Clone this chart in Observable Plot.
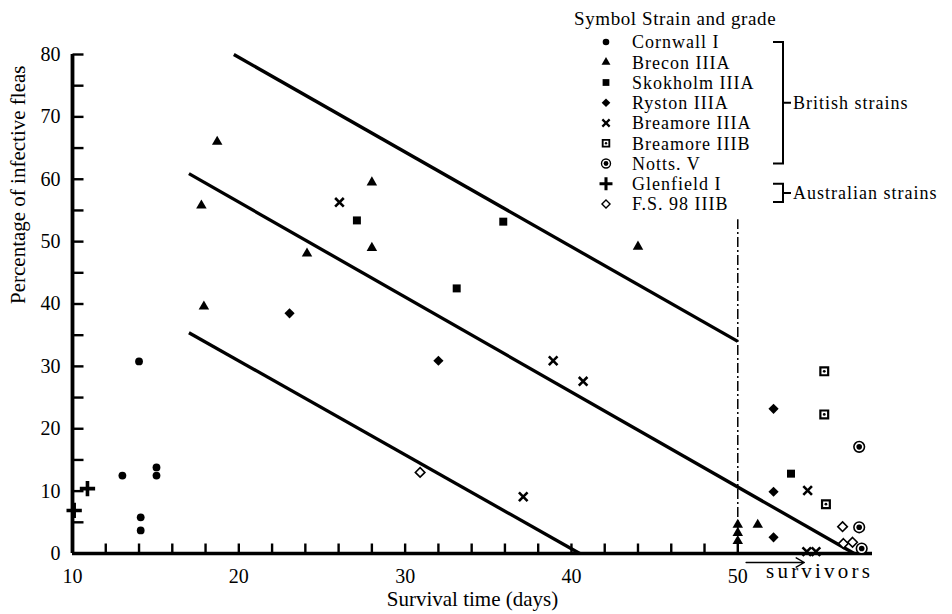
<!DOCTYPE html>
<html><head><meta charset="utf-8">
<script src="https://cdn.jsdelivr.net/npm/d3@7"></script>
<script src="https://cdn.jsdelivr.net/npm/@observablehq/plot@0.6"></script>
<style>body{margin:0;background:#fff;}</style>
</head><body><div id="chart"></div>
<script>
// ---------- data ----------
const strainNames = ["Cornwall I","Brecon IIIA","Skokholm IIIA","Ryston IIIA","Breamore IIIA","Breamore IIIB","Notts. V","Glenfield I","F.S. 98 IIIB"];
const groupLabels = ["British strains","Australian strains"];
const legendTitle = "Symbol Strain and grade";

const cornwallDays = [14.0, 13.0, 15.05, 15.05, 14.1, 14.1];
const cornwallPct  = [30.8, 12.5, 13.8, 12.5, 5.8, 3.7];
const breconDays = [18.7, 17.75, 17.9, 24.1, 28.0, 28.0, 44.0, 50.0, 50.0, 50.0, 51.2];
const breconPct  = [66.0, 55.8, 39.6, 48.1, 59.5, 49.0, 49.2, 4.6, 3.3, 2.0, 4.6];
const skokholmDays = [27.1, 35.9, 33.1, 53.2];
const skokholmPct  = [53.4, 53.2, 42.5, 12.8];
const rystonDays = [23.05, 32.0, 52.15, 52.15, 52.15];
const rystonPct  = [38.5, 30.9, 23.2, 9.9, 2.6];
const breamoreADays = [26.05, 38.9, 40.7, 37.1, 54.2, 54.15, 54.7];
const breamoreAPct  = [56.3, 30.9, 27.6, 9.1, 10.1, 0.3, 0.3];
const breamoreBDays = [55.2, 55.2, 55.3];
const breamoreBPct  = [29.2, 22.3, 7.9];
const nottsDays = [57.3, 57.3, 57.45];
const nottsPct  = [17.1, 4.2, 0.8];
const glenfieldDays = [10.9, 10.1];
const glenfieldPct  = [10.4, 6.9];
const fs98Days = [30.9, 56.3, 56.35, 56.9];
const fs98Pct  = [13.0, 4.3, 1.6, 1.8];

// parallel regression lines (start/end)
const fitX1 = [19.7, 17.0, 17.0];
const fitY1 = [80.0, 60.9, 35.4];
const fitX2 = [50.0, 57.0, 40.5];
const fitY2 = [34.0, 0.0, 0.0];

const survivalCutoff = [50];
const cutoffTop = 53.5;
const survivorArrowFrom = [50.5];
const survivorArrowTo = [54.0];
const survivorLabel = ["survivors"];
const survivorLabelX = [51.7];

const xTickLabels = [10, 20, 30, 40, 50];
const xMinorTicks = [12,14,16,18,20,22,24,26,28,30,32,34,36,38,40,42,44,46,48,50];
const yTickLabels = [0, 10, 20, 30, 40, 50, 60, 70, 80];
const yMinorTicks = [5,10,15,20,25,30,35,40,45,50,55,60,65,70,75,80];
const xTitle = "Survival time (days)";
const yTitle = "Percentage of infective fleas";

// ---------- build ----------
const FONT = '"Liberation Serif", "Times New Roman", serif';
const K = "#000";
const pts = (days, pct) => days.map((d, i) => ({day: d, pct: pct[i]}));
const fits = fitX1.map((x, i) => ({x1: x, y1: fitY1[i], x2: fitX2[i], y2: fitY2[i]}));
const arrowData = survivorArrowFrom.map((f, i) => ({from: f, to: survivorArrowTo[i], y: 0}));
const labelData = survivorLabel.map((t, i) => ({t, x: survivorLabelX[i], y: 0}));

// inward tick shapes (symbols anchored on the axis)
const tickUp = {draw(ctx) { ctx.moveTo(0, 0); ctx.lineTo(0, -10); }};
const tickRight = {draw(ctx) { ctx.moveTo(0, 0); ctx.lineTo(11, 0); }};

const specs = [
  {name: strainNames[0], days: cornwallDays, pct: cornwallPct, symbol: "circle", r: 3.9, fill: K},
  {name: strainNames[1], days: breconDays, pct: breconPct, symbol: "triangle", r: 3.9, fill: K},
  {name: strainNames[2], days: skokholmDays, pct: skokholmPct, symbol: "square", r: 4.5, fill: K},
  {name: strainNames[3], days: rystonDays, pct: rystonPct, symbol: "diamond2", r: 4.6, fill: K},
  {name: strainNames[4], days: breamoreADays, pct: breamoreAPct, symbol: "times", r: 4.0, fill: "none", stroke: K, sw: 2.6},
  {name: strainNames[5], days: breamoreBDays, pct: breamoreBPct, symbol: "square", r: 4.4, fill: "#fff", stroke: K, sw: 2.2, inner: 1.4},
  {name: strainNames[6], days: nottsDays, pct: nottsPct, symbol: "circle", r: 5.3, fill: "#fff", stroke: K, sw: 1.6, inner: 2.8},
  {name: strainNames[7], days: glenfieldDays, pct: glenfieldPct, symbol: "plus", r: 5.0, fill: "none", stroke: K, sw: 3.6},
  {name: strainNames[8], days: fs98Days, pct: fs98Pct, symbol: "diamond2", r: 4.3, fill: "#fff", stroke: K, sw: 1.6}
];

const dotMarks = [];
for (const s of specs) {
  const d = pts(s.days, s.pct);
  const o = {x: "day", y: "pct", symbol: s.symbol, r: s.r, fill: s.fill};
  if (s.stroke) { o.stroke = s.stroke; o.strokeWidth = s.sw; }
  dotMarks.push(Plot.dot(d, o));
  if (s.inner) dotMarks.push(Plot.dot(d, {x: "day", y: "pct", symbol: "circle", r: s.inner, fill: K}));
}

const plot = Plot.plot({
  width: 952, height: 614,
  marginLeft: 72, marginRight: 80, marginTop: 54, marginBottom: 61,
  x: {domain: [10, 58.1]},
  y: {domain: [0, 80]},
  style: {fontFamily: FONT, fontSize: "20px", color: "#000", background: "#fff"},
  marks: [
    Plot.axisX(xTickLabels, {tickSize: 0, tickPadding: 15, label: null}),
    Plot.axisY(yTickLabels, {tickSize: 0, tickPadding: 12, label: null}),
    Plot.ruleY([0], {x1: 10, x2: 58.1, strokeWidth: 3.5}),
    Plot.ruleX([10], {y1: 0, y2: 80, strokeWidth: 3.8}),
    Plot.ruleX(survivalCutoff, {y1: 0, y2: cutoffTop, strokeWidth: 1.5, strokeDasharray: "10,3,2,3"}),
    Plot.link(fits, {x1: "x1", y1: "y1", x2: "x2", y2: "y2", strokeWidth: 3.3}),
    ...dotMarks,
    Plot.arrow(arrowData, {x1: "from", x2: "to", y1: "y", y2: "y", dy: 9, strokeWidth: 1.4, headLength: 10}),
    Plot.text(labelData, {x: "x", y: "y", text: "t", textAnchor: "start", dy: 18, fontSize: 21}),
    Plot.text([xTitle], {text: d => d, frameAnchor: "bottom", dy: 52, fontSize: 21}),
    Plot.text([yTitle], {text: d => d, frameAnchor: "left", rotate: -90, dx: -54, fontSize: 21}),
    // inward tick marks on both axes
    Plot.dot(xMinorTicks, {x: d => d, y: () => 0, symbol: tickUp, fill: "none", stroke: K, strokeWidth: 2.4}),
    Plot.dot(yMinorTicks, {x: () => 10, y: d => d, symbol: tickRight, fill: "none", stroke: K, strokeWidth: 2.4})
  ]
});
document.getElementById("chart").appendChild(plot);

const svg = d3.select(plot);
// wide letter spacing of the "survivors" note, as in the original
svg.selectAll("text").filter(function () { return this.textContent === survivorLabel[0]; })
  .attr("letter-spacing", "3.2px");

// ---------- legend (drawn with d3 into the same svg) ----------
const symbolTypes = {circle: d3.symbolCircle, triangle: d3.symbolTriangle, square: d3.symbolSquare, diamond2: d3.symbolDiamond2, times: d3.symbolTimes, plus: d3.symbolPlus};
const lg = svg.append("g").attr("font-family", FONT).attr("font-size", 18).attr("letter-spacing", "1px").attr("fill", K).attr("text-anchor", "start");
lg.append("text").attr("x", 574).attr("y", 18).attr("dy", "0.35em").attr("font-size", 19).attr("letter-spacing", "0.6px").text(legendTitle);
const rowY = i => 42 + i * 20.25;
specs.forEach((s, i) => {
  const cy = rowY(i), cx = 606, sc = 0.85;
  const r = s.r * sc;
  const p = lg.append("path").attr("d", d3.symbol(symbolTypes[s.symbol], Math.PI * r * r)())
    .attr("transform", `translate(${cx},${cy})`).attr("fill", s.fill);
  if (s.stroke) p.attr("stroke", s.stroke).attr("stroke-width", s.sw * sc);
  if (s.inner) lg.append("circle").attr("cx", cx).attr("cy", cy).attr("r", s.inner * sc).attr("fill", K);
  lg.append("text").attr("x", 632).attr("y", cy).attr("dy", "0.35em").text(s.name);
});
// brackets
const br = lg.append("g").attr("fill", "none").attr("stroke", K).attr("stroke-width", 2);
const b1 = [rowY(0), rowY(6)], b2 = [rowY(7), rowY(8) - 2];
for (const [top, bot] of [b1, b2]) {
  const mid = (top + bot) / 2;
  br.append("path").attr("d", `M773,${top}H783V${bot}H773M783,${mid}H791`);
}
lg.append("text").attr("x", 793).attr("y", (b1[0] + b1[1]) / 2).attr("dy", "0.35em").text(groupLabels[0]);
lg.append("text").attr("x", 793).attr("y", (b2[0] + b2[1]) / 2).attr("dy", "0.35em").text(groupLabels[1]);
</script>
</body></html>
